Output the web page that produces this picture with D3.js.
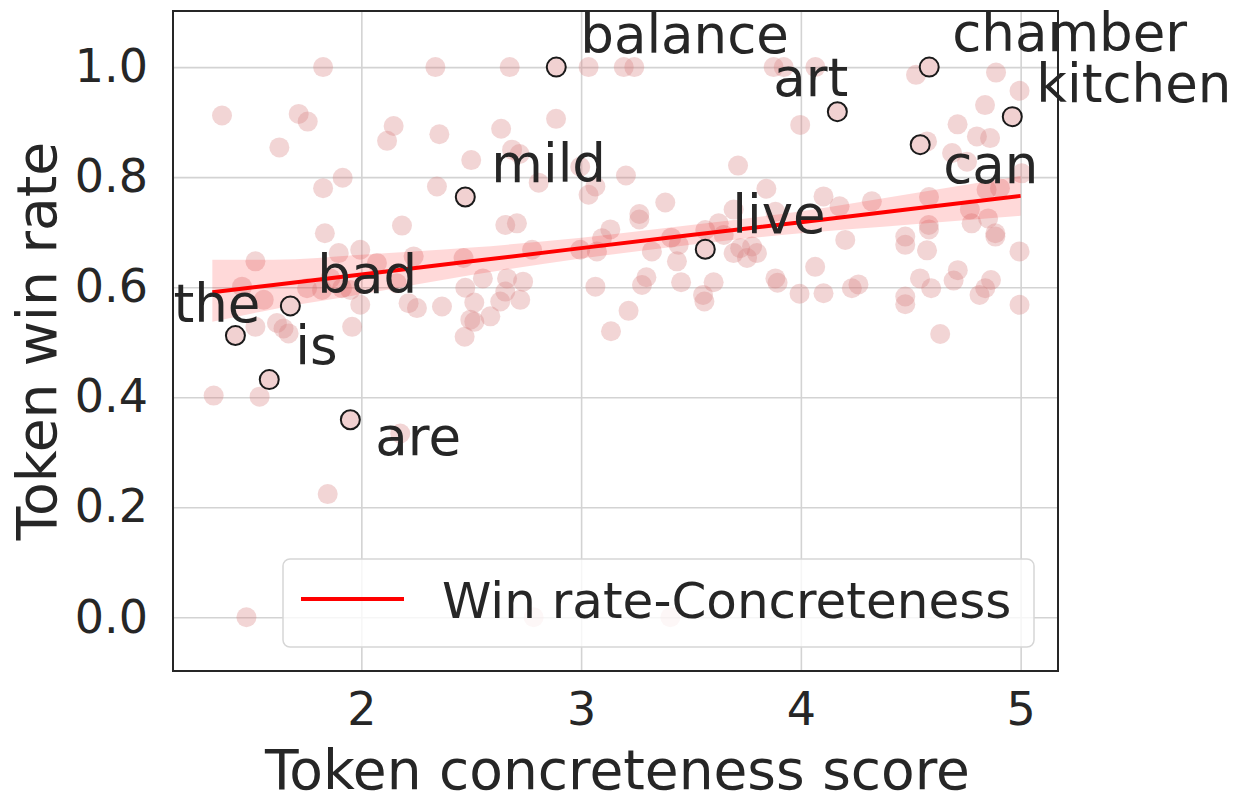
<!DOCTYPE html>
<html>
<head>
<meta charset="utf-8">
<script src="https://cdn.jsdelivr.net/npm/d3@7"></script>
<style>
  body { margin: 0; background: #fff; }
  text { font-family: "DejaVu Sans", sans-serif; fill: #262626; }
</style>
</head>
<body>
<svg id="chart"></svg>
<script>
// pale background tokens (concreteness, win rate)
var tokX = [1.826, 2.337, 1.366, 1.715, 1.756, 1.627, 2.147, 2.117, 2.355, 2.50, 1.915, 1.826, 2.344, 1.834, 2.185,
  2.675, 3.034, 3.194, 3.242, 2.886, 2.636, 2.686, 2.807, 2.996, 3.204, 3.065, 3.034, 3.383, 3.265, 3.714, 3.694, 2.655, 2.708, 3.133,
  3.876, 3.922, 4.066, 3.997, 4.524, 4.888, 4.995, 4.838, 4.713, 4.801, 4.861, 4.574, 4.688, 4.756, 5.005, 3.843, 4.103, 4.176, 4.323,
  4.583, 4.845, 4.906, 4.769, 4.852, 4.582,
  1.518, 1.897, 1.995, 2.071, 2.238, 2.465, 1.457, 1.556, 1.753, 1.859, 1.95, 1.995, 2.162, 2.215, 2.253, 2.367, 2.473, 2.496, 2.47,
  1.518, 1.616, 1.646, 1.669, 1.958, 1.328, 1.537, 2.177,
  3.265, 3.095, 2.777, 2.996, 3.072, 3.322, 3.444, 3.436, 3.565, 3.724, 3.755, 3.778, 3.694, 2.553, 2.663, 2.736, 2.655, 2.632, 2.723,
  2.514, 2.587, 2.514, 3.065, 3.216, 3.136, 3.277, 3.297, 3.455, 3.555, 3.561, 3.603,
  3.80, 4.202, 4.475, 4.475, 4.583, 4.574, 4.777, 4.885, 4.885, 4.995, 4.065, 3.884, 3.894, 3.994, 4.103, 4.232, 4.262, 4.475, 4.475,
  4.542, 4.593, 4.695, 4.714, 4.813, 4.839, 4.865, 4.995, 4.634,
  1.847, 1.477, 2.784, 3.406, 3.626, 3.884, 3.41, 3.649, 1.821, 1.912, 2.72];
var tokY = [1.0, 1.0, 0.912, 0.915, 0.901, 0.854, 0.893, 0.866, 0.878, 0.831, 0.799, 0.78, 0.783, 0.698, 0.712,
  1.0, 1.0, 1.0, 1.0, 0.906, 0.888, 0.85, 0.79, 0.819, 0.803, 0.783, 0.768, 0.754, 0.733, 0.821, 0.741, 0.713, 0.716, 0.705,
  1.0, 1.0, 1.0, 0.895, 0.986, 0.99, 0.957, 0.931, 0.896, 0.874, 0.871, 0.865, 0.844, 0.828, 0.807, 0.779, 0.765, 0.747, 0.756,
  0.764, 0.777, 0.78, 0.741, 0.725, 0.713,
  0.647, 0.662, 0.668, 0.644, 0.656, 0.653, 0.601, 0.577, 0.598, 0.616, 0.595, 0.568, 0.607, 0.571, 0.562, 0.565, 0.599, 0.541, 0.51,
  0.528, 0.535, 0.525, 0.516, 0.528, 0.403, 0.401, 0.334,
  0.723, 0.689, 0.668, 0.668, 0.665, 0.665, 0.677, 0.647, 0.704, 0.671, 0.653, 0.674, 0.662, 0.616, 0.616, 0.61, 0.592, 0.574, 0.577,
  0.572, 0.547, 0.537, 0.601, 0.557, 0.52, 0.604, 0.618, 0.609, 0.586, 0.574, 0.609,
  0.662, 0.686, 0.692, 0.677, 0.705, 0.667, 0.716, 0.698, 0.692, 0.665, 0.637, 0.616, 0.608, 0.588, 0.589, 0.598, 0.605, 0.583, 0.569,
  0.616, 0.598, 0.612, 0.631, 0.586, 0.598, 0.613, 0.568, 0.515,
  0.224, 0.0, 0.0, 0.0, 0.716, 0.737, 0.69, 0.695, 0.595, 0.598, 0.842];

// annotated tokens
var hlWords = ["balance", "chamber", "art", "kitchen", "can", "mild", "live", "bad", "the", "is", "are"];
var hlX = [2.887, 4.584, 4.166, 4.962, 4.543, 2.473, 3.565, 1.677, 1.427, 1.581, 1.950];
var hlY = [1.0, 1.0, 0.919, 0.910, 0.859, 0.764, 0.669, 0.566, 0.512, 0.432, 0.359];

// regression fit and confidence band
var fitX = [1.322, 1.6, 2.0, 2.5, 3.0, 3.5, 4.0, 4.5, 5.0];
var fitY = [0.591, 0.604, 0.623, 0.647, 0.671, 0.695, 0.718, 0.742, 0.766];
var fitLo = [0.537, 0.560, 0.587, 0.622, 0.652, 0.677, 0.698, 0.714, 0.730];
var fitHi = [0.650, 0.650, 0.659, 0.672, 0.690, 0.713, 0.738, 0.770, 0.802];

var xTicks = [2, 3, 4, 5];
var yTicks = [0.0, 0.2, 0.4, 0.6, 0.8, 1.0];
var legendLabel = "Win rate-Concreteness";

// label placement around each annotated point
var nudge = {
  balance: [24, -14, "start"], chamber: [23, -16, "start"], art: [11, -16, "end"],
  kitchen: [24, -15, "start"], can: [23, 38, "start"], mild: [26, -15, "start"],
  live: [27, -16, "start"], bad: [27, -13, "start"], the: [25, -14, "end"],
  is: [26, -16, "start"], are: [25, 35, "start"]
};

var W = 1242, H = 797;
var pL = 173, pR = 1058, pT = 11, pB = 671;

var svg = d3.select('#chart').attr('width', W).attr('height', H);

var xScale = d3.scaleLinear().domain([1.143, 5.17]).range([pL, pR]);
var yScale = d3.scaleLinear().domain([-0.0976, 1.102]).range([pB, pT]);

// grid
svg.append('g')
  .attr('transform', 'translate(0,' + pB + ')')
  .call(d3.axisBottom(xScale).tickValues(xTicks).tickSize(-(pB - pT)).tickFormat(''))
  .call(g => g.select('.domain').remove())
  .selectAll('line').attr('stroke', '#d3d3d3').attr('stroke-width', 1.6);
svg.append('g')
  .attr('transform', 'translate(' + pL + ',0)')
  .call(d3.axisLeft(yScale).tickValues(yTicks).tickSize(-(pR - pL)).tickFormat(''))
  .call(g => g.select('.domain').remove())
  .selectAll('line').attr('stroke', '#d3d3d3').attr('stroke-width', 1.6);

// scatter
svg.append('g').selectAll('circle')
  .data(tokX.map((x, i) => [x, tokY[i]]))
  .enter().append('circle')
    .attr('cx', d => xScale(d[0]))
    .attr('cy', d => yScale(d[1]))
    .attr('r', 10)
    .attr('fill', '#d98080')
    .attr('fill-opacity', 0.33);

// band + fit line
var band = fitX.map((x, i) => ({x: x, lo: fitLo[i], hi: fitHi[i], y: fitY[i]}));
svg.append('path')
  .datum(band)
  .attr('d', d3.area().x(d => xScale(d.x)).y0(d => yScale(d.lo)).y1(d => yScale(d.hi)).curve(d3.curveMonotoneX))
  .attr('fill', '#ff0000').attr('fill-opacity', 0.15);
svg.append('path')
  .datum(band)
  .attr('d', d3.line().x(d => xScale(d.x)).y(d => yScale(d.y)))
  .attr('fill', 'none').attr('stroke', '#ff0000').attr('stroke-width', 4);

// annotated tokens
var hl = hlWords.map((w, i) => ({w: w, x: hlX[i], y: hlY[i]}));
svg.append('g').selectAll('circle')
  .data(hl)
  .enter().append('circle')
    .attr('cx', d => xScale(d.x))
    .attr('cy', d => yScale(d.y))
    .attr('r', 9.5)
    .attr('fill', '#f1d1d1')
    .attr('stroke', '#1a1a1a')
    .attr('stroke-width', 2);
svg.append('g').selectAll('text')
  .data(hl)
  .enter().append('text')
    .attr('x', d => xScale(d.x) + nudge[d.w][0])
    .attr('y', d => yScale(d.y) + nudge[d.w][1])
    .attr('text-anchor', d => nudge[d.w][2])
    .style('font-size', '53px')
    .text(d => d.w);

// frame
svg.append('rect')
  .attr('x', pL).attr('y', pT)
  .attr('width', pR - pL).attr('height', pB - pT)
  .attr('fill', 'none').attr('stroke', '#262626').attr('stroke-width', 2);

// tick labels
var xAx = svg.append('g')
  .attr('transform', 'translate(0,' + pB + ')')
  .call(d3.axisBottom(xScale).tickValues(xTicks).tickSize(0).tickPadding(21).tickFormat(d3.format('d')));
xAx.select('.domain').remove();
xAx.selectAll('text').style('font-size', '46px').style('font-family', '"DejaVu Sans", sans-serif').attr('fill', '#262626');

var yAx = svg.append('g')
  .attr('transform', 'translate(' + pL + ',0)')
  .call(d3.axisLeft(yScale).tickValues(yTicks).tickSize(0).tickPadding(25).tickFormat(d3.format('.1f')));
yAx.select('.domain').remove();
yAx.selectAll('text').style('font-size', '46px').style('font-family', '"DejaVu Sans", sans-serif').attr('fill', '#262626');

// axis titles
svg.append('text')
  .attr('x', (pL + pR) / 2 + 2)
  .attr('y', 789)
  .style('text-anchor', 'middle')
  .style('font-size', '55px')
  .text('Token concreteness score');
svg.append('text')
  .attr('transform', 'translate(56,' + (pT + pB) / 2 + ') rotate(-90)')
  .style('text-anchor', 'middle')
  .style('font-size', '55px')
  .text('Token win rate');

// legend
var lg = svg.append('g');
lg.append('rect')
  .attr('x', 283).attr('y', 559).attr('width', 751).attr('height', 88).attr('rx', 7)
  .attr('fill', '#fff').attr('fill-opacity', 0.8)
  .attr('stroke', '#d6d6d6').attr('stroke-width', 1.5);
lg.append('line')
  .attr('x1', 301).attr('x2', 404).attr('y1', 599).attr('y2', 599)
  .attr('stroke', '#ff0000').attr('stroke-width', 4);
lg.append('text')
  .attr('x', 442).attr('y', 618)
  .style('font-size', '50px')
  .text(legendLabel);
</script>
</body>
</html>
